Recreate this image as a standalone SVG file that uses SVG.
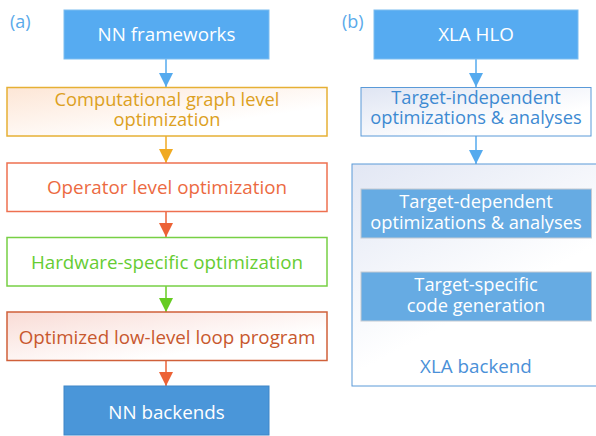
<svg xmlns="http://www.w3.org/2000/svg" width="596" height="436" viewBox="0 0 596 436">
<defs>
<linearGradient id="gOrange" x1="0" y1="0" x2="1" y2="1">
<stop offset="0" stop-color="#fde6d6"/><stop offset="0.7" stop-color="#ffffff"/></linearGradient>
<linearGradient id="gPink" x1="0" y1="0" x2="1" y2="1">
<stop offset="0" stop-color="#f9dcd6"/><stop offset="0.7" stop-color="#ffffff"/></linearGradient>
<linearGradient id="gBlue" x1="0" y1="0" x2="1" y2="1">
<stop offset="0" stop-color="#dfe5f3"/><stop offset="0.7" stop-color="#ffffff"/></linearGradient>
<linearGradient id="gCont" x1="0" y1="0" x2="0.6" y2="1">
<stop offset="0" stop-color="#e2e7f4"/><stop offset="0.7" stop-color="#ffffff"/></linearGradient>
<marker id="mBlue" viewBox="0 0 10 10" refX="10" refY="5" markerWidth="14" markerHeight="14" markerUnits="userSpaceOnUse" orient="auto"><path d="M0,0 L10,5 L0,10 z" fill="#55aaee"/></marker>
<marker id="mGold" viewBox="0 0 10 10" refX="10" refY="5" markerWidth="14" markerHeight="14" markerUnits="userSpaceOnUse" orient="auto"><path d="M0,0 L10,5 L0,10 z" fill="#f0aa22"/></marker>
<marker id="mRed" viewBox="0 0 10 10" refX="10" refY="5" markerWidth="14" markerHeight="14" markerUnits="userSpaceOnUse" orient="auto"><path d="M0,0 L10,5 L0,10 z" fill="#ec6236"/></marker>
<marker id="mGreen" viewBox="0 0 10 10" refX="10" refY="5" markerWidth="14" markerHeight="14" markerUnits="userSpaceOnUse" orient="auto"><path d="M0,0 L10,5 L0,10 z" fill="#66cc22"/></marker>
</defs>
<style>
text{font-family:"Open Sans","Noto Sans","Liberation Sans",sans-serif;font-size:18.8px;text-anchor:middle}
.two{font-size:18.3px}
.w{fill:#ffffff}
.lbl{fill:#5aaaea;text-anchor:start;font-size:18px}
.c{stroke-width:1.5;fill:none}
</style>
<text class="lbl" x="10" y="28">(a)</text>
<text class="lbl" x="342" y="28">(b)</text>
<g id="connectors">
<line class="c" x1="166" y1="59" x2="166" y2="87" stroke="#55aaee" marker-end="url(#mBlue)"/>
<line class="c" x1="166" y1="136" x2="166" y2="163" stroke="#f0aa22" marker-end="url(#mGold)"/>
<line class="c" x1="166" y1="212" x2="166" y2="237" stroke="#ec6236" marker-end="url(#mRed)"/>
<line class="c" x1="166" y1="286" x2="166" y2="312" stroke="#66cc22" marker-end="url(#mGreen)"/>
<line class="c" x1="166" y1="361" x2="166" y2="386" stroke="#ec6236" marker-end="url(#mRed)"/>
<line class="c" x1="476" y1="59" x2="476" y2="87" stroke="#55aaee" marker-end="url(#mBlue)"/>
<line class="c" x1="476" y1="136" x2="476" y2="164" stroke="#55aaee" marker-end="url(#mBlue)"/>
</g>
<g id="nn-frameworks">
<rect x="64" y="10" width="205" height="49" fill="#56abf1" stroke="#7cbdf0" stroke-width="1"/>
<text class="w" x="166.5" y="40.5">NN frameworks</text>
</g>
<g id="graph-opt">
<rect x="7" y="87.5" width="320" height="48.5" fill="url(#gOrange)" stroke="#e6b034" stroke-width="1.5"/>
<text class="two" x="167" y="105.5" fill="#dca021">Computational graph level</text>
<text class="two" x="167" y="125.5" fill="#dca021">optimization</text>
</g>
<g id="operator-opt">
<rect x="7" y="163" width="320" height="48.5" fill="#ffffff" stroke="#ee7050" stroke-width="1.5"/>
<text x="167" y="193.5" fill="#ec6a42">Operator level optimization</text>
</g>
<g id="hw-opt">
<rect x="7" y="237.5" width="320" height="48.5" fill="#ffffff" stroke="#77d044" stroke-width="1.5"/>
<text x="167" y="268.5" fill="#66cc33">Hardware-specific optimization</text>
</g>
<g id="loop-program">
<rect x="7" y="312" width="320" height="48.5" fill="url(#gPink)" stroke="#d0603a" stroke-width="1.5"/>
<text x="167" y="343.5" fill="#c8582e">Optimized low-level loop program</text>
</g>
<g id="nn-backends">
<rect x="64" y="386" width="205" height="49" fill="#4a96d9" stroke="#3f86c8" stroke-width="1"/>
<text class="w" x="166.5" y="418.5">NN backends</text>
</g>
<g id="xla-hlo">
<rect x="374" y="10" width="204" height="49" fill="#56abf1" stroke="#7cbdf0" stroke-width="1"/>
<text class="w" x="476" y="40.5">XLA HLO</text>
</g>
<g id="target-independent">
<rect x="361" y="87.5" width="230" height="48.5" fill="url(#gBlue)" stroke="#5a9ad8" stroke-width="1"/>
<text class="two" x="476" y="103.5" fill="#3d8ad2">Target-independent</text>
<text class="two" x="476" y="123.5" fill="#3d8ad2">optimizations &amp; analyses</text>
</g>
<g id="xla-backend">
<rect x="352" y="164" width="250" height="222" fill="url(#gCont)" stroke="#5a9ad8" stroke-width="1"/>
<text x="476" y="372.5" fill="#4a90d8">XLA backend</text>
</g>
<g id="target-dependent">
<rect x="361" y="189" width="230.5" height="49" fill="#66abe3" stroke="#c4cad2" stroke-width="1"/>
<text class="two w" x="476" y="208">Target-dependent</text>
<text class="two w" x="476" y="228.5">optimizations &amp; analyses</text>
</g>
<g id="target-specific">
<rect x="361" y="272" width="230.5" height="49" fill="#66abe3" stroke="#c4cad2" stroke-width="1"/>
<text class="two w" x="476" y="291">Target-specific</text>
<text class="two w" x="476" y="312">code generation</text>
</g>
</svg>
